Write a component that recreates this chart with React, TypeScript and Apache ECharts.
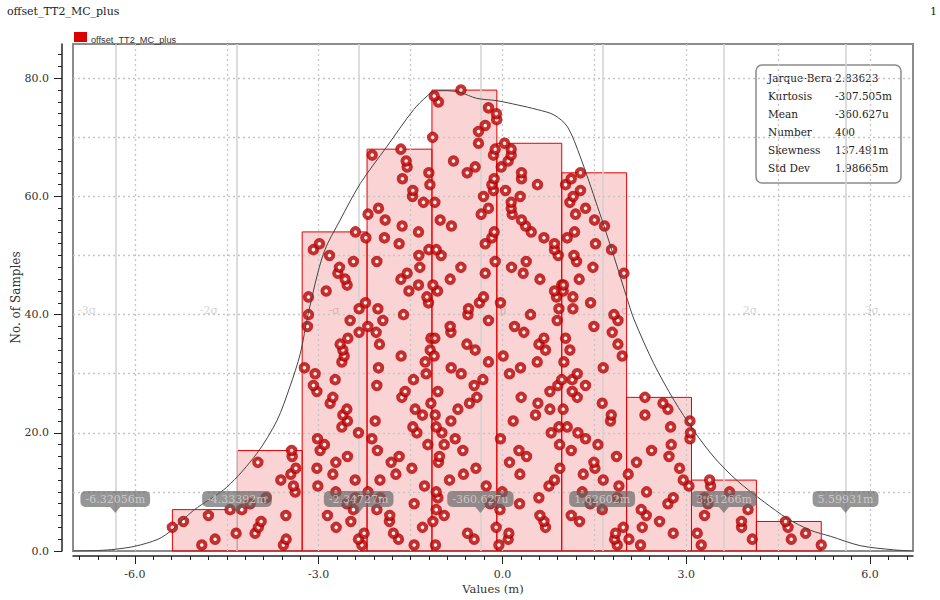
import React, { useEffect, useRef } from "react";
import * as echarts from "echarts";

const chartTitle = "offset_TT2_MC_plus";
const pageNumber = "1";
const legendName = "offset_TT2_MC_plus";
const xAxisName = "Values (m)";
const yAxisName = "No. of Samples";

// Monte Carlo samples grouped by histogram bin; within a bin each sample is
// stacked at its rank (first entry at height 1, second at 2, ...).
const bin1 = [-4.908, -4.691, -4.348, -5.388, -5.208, -4.8, -4.446];
const bin2 = [
  -3.576, -3.531, -4.038, -3.984, -3.94, -3.536, -4.255, -4.119, -3.858, -3.384,
  -3.412, -3.618, -3.455, -3.373, -3.993, -3.433, -3.442,
];
const bin3 = [
  -2.296, -2.351, -2.258, -2.715, -2.475, -2.857, -2.433, -2.54, -2.4, -2.72,
  -3.014, -2.405, -2.769, -3.03, -2.72, -2.531, -2.976, -2.906, -3.02, -2.351,
  -2.622, -2.531, -2.606, -2.54, -2.813, -2.769, -3.03, -3.086, -2.731, -3.058,
  -3.233, -2.622, -2.584, -2.606, -2.65, -2.524, -2.34, -3.184, -2.487, -3.167,
  -2.34, -2.237, -3.167, -2.878, -2.536, -2.568, -2.687, -2.661, -2.433, -2.824,
  -3.086, -2.988, -2.23, -2.4,
];
const bin4 = [
  -1.442, -1.698, -1.78, -1.306, -1.845, -1.84, -2.051, -1.442, -1.997, -2.195,
  -1.273, -2.0, -1.74, -1.479, -1.817, -1.687, -2.041, -1.218, -2.132, -1.398,
  -1.463, -2.078, -1.306, -1.425, -1.169, -1.642, -1.589, -2.051, -1.453, -1.246,
  -2.024, -1.262, -1.654, -1.18, -2.008, -1.169, -2.062, -2.198, -1.953, -1.616,
  -2.034, -1.208, -1.234, -1.528, -1.371, -1.659, -1.556, -1.349, -2.051, -1.365,
  -1.202, -1.687, -1.927, -1.371, -1.638, -1.915, -2.195, -2.024, -1.29, -1.469,
  -1.463, -1.185, -1.633, -1.202, -1.556, -1.572, -2.127, -1.659,
];
const bin5 = [
  -1.094, -0.462, -0.571, -0.103, -1.136, -0.952, -1.082, -0.201, -1.055, -1.082,
  -0.266, -0.865, -0.637, -0.434, -1.045, -1.029, -0.647, -0.952, -0.772, -0.989,
  -1.082, -0.842, -1.099, -0.728, -0.539, -0.418, -1.055, -0.462, -0.32, -0.674,
  -0.838, -0.229, -1.115, -0.446, -0.581, -1.104, -0.842, -0.854, -0.229, -0.565,
  -0.555, -0.376, -0.31, -1.061, -1.136, -0.854, -0.282, -0.679, -0.119, -1.001,
  -1.082, -0.282, -0.173, -0.136, -0.833, -1.017, -0.348, -0.229, -1.104, -0.31,
  -0.147, -0.173, -0.136, -0.576, -0.446, -0.8, -0.147, -0.119, -0.392, -1.14,
  -0.392, -0.282, -0.095, -0.1, -0.229, -1.045, -1.115, -0.679,
];
const bin6 = [
  -0.059, 0.093, 0.104, 0.702, 0.676, 0.611, -0.042, 0.278, 0.594, -0.005,
  0.758, 0.849, 0.284, 0.937, 0.114, 0.392, 0.268, 0.931, -0.033, 0.795,
  0.921, 0.175, 0.539, 0.774, 0.578, 0.305, 0.774, 0.904, 0.967, 0.114,
  0.294, 0.567, 0.011, 0.702, 0.594, 0.676, 0.349, 0.196, 0.893, 0.457,
  0.921, -0.033, 0.882, 0.849, 0.967, 0.611, 0.338, 0.147, 0.387, 0.909,
  0.849, 0.849, 0.676, 0.469, 0.376, 0.31, 0.158, 0.142, 0.142, 0.289,
  0.049, 0.571, 0.31, 0.31, -0.021, 0.093, 0.142, 0.142, 0.033,
];
const bin7 = [
  1.873, 1.829, 1.845, 1.971, 1.257, 1.122, 1.628, 1.432, 1.873, 1.301,
  1.9, 1.644, 1.318, 1.509, 1.492, 1.861, 1.122, 1.558, 1.355, 1.231,
  1.056, 1.763, 1.775, 0.99, 1.628, 1.22, 1.138, 1.355, 1.138, 1.22,
  1.644, 1.002, 1.954, 1.1, 1.884, 1.029, 1.791, 1.492, 1.884, 1.819,
  1.149, 1.437, 1.149, 0.991, 0.995, 1.252, 1.982, 1.476, 1.208, 1.166,
  1.78, 1.518, 1.056, 1.176, 1.665, 1.502, 1.192, 1.355, 1.1, 1.154,
  1.273, 1.029, 1.122, 1.273,
];
const bin8 = [
  2.253, 2.064, 2.787, 2.281, 2.563, 2.346, 2.264, 2.7, 2.787, 2.351,
  3.043, 2.95, 2.052, 2.89, 2.188, 2.717, 2.433, 2.754, 3.06, 3.069,
  2.743, 3.06, 2.325, 2.7, 2.619, 2.325,
];
const bin9 = [3.244, 4.077, 3.179, 3.902, 3.9, 3.298, 4.007, 3.353, 3.298, 3.706, 3.396, 3.38];
const bin10 = [5.203, 4.713, 4.947, 4.66, 4.62];

const bins = [bin1, bin2, bin3, bin4, bin5, bin6, bin7, bin8, bin9, bin10];

// Fitted density, scaled to sample counts
const densityX = [
  -7.01, -6.57, -6.32, -6.0, -5.62, -5.39, -5.04, -4.5, -4.01, -3.68, -3.47, -3.3,
  -3.17, -2.92, -2.65, -2.32, -1.89, -1.45, -1.23, -1.12, -0.91, -0.69, -0.42,
  -0.09, 0.24, 0.57, 0.84, 1.06, 1.27, 1.55, 1.82, 2.04, 2.15, 2.47, 2.8, 3.12,
  3.45, 3.83, 4.27, 4.65, 5.03, 5.35, 5.84, 6.38, 6.7,
];
const densityY = [
  0, 0.1, 0.3, 0.8, 2.0, 3.6, 6.9, 10.8, 16.5, 22.1, 27.8, 33.4,
  40.2, 50.4, 56.0, 62.2, 68.4, 74.7, 77.0, 77.8, 77.9, 77.6, 76.6,
  76.2, 75.5, 74.7, 73.8, 71.8, 66.7, 58.3, 49.8, 42.5, 39.1, 31.7, 25.5, 20.4,
  15.9, 11.9, 8.3, 5.5, 3.5, 2.5, 0.9, 0.2, 0,
];

const statNames = ["Jarque-Bera", "Kurtosis", "Mean", "Number", "Skewness", "Std Dev"];
const statValues = ["2.83623", "-307.505m", "-360.627u", "400", "137.491m", "1.98665m"];

const sampleMean = -0.360627;
const sampleStd = 1.98665;
const sigmaSteps = [-3, -2, -1, 0, 1, 2, 3];
const sigmaNames = ["-3σ", "-2σ", "-σ", "μ", "σ", "2σ", "3σ"];
const sigmaValueLabels = [
  "-6.32056m", "-4.33392m", "-2.34727m", "-360.627u", "1.62602m", "3.61266m", "5.59931m",
];

const xMajorTicks = [-6, -3, 0, 3, 6];
const xGridLines = [-6, -4.5, -3, -1.5, 0, 1.5, 3, 4.5, 6];
const yMajorTicks = [0, 20, 40, 60, 80];
const yGridLines = [10, 20, 30, 40, 50, 60, 70, 80];

const X_MIN = -7.01;
const X_MAX = 6.7;
const Y_MAX = 85.8;

const SERIF = "DejaVu Serif";

function stepValues(from: number, to: number, step: number): number[] {
  const out: number[] = [];
  const n = Math.round((to - from) / step);
  for (let i = 0; i <= n; i++) out.push(Math.round((from + i * step) * 1000) / 1000);
  return out;
}

function buildOption(): echarts.EChartsOption {
  const all = bins.flat();
  const lo = Math.min(...all);
  const hi = Math.max(...all);
  const width = (hi - lo) / bins.length;
  const histData = bins.map((b, i) => [lo + i * width, lo + (i + 1) * width, b.length]);

  const sampleData: number[][] = [];
  bins.forEach((b) => b.forEach((v, i) => sampleData.push([v, i + 1])));

  const sigmaXs = sigmaSteps.map((k) => sampleMean + k * sampleStd);

  const xMinor = stepValues(-6.9, 6.6, 0.3);
  const yMinor = stepValues(0, 84, 2);

  const axisLineStyle = { color: "#222", width: 1.5 };
  const tickStyle = { color: "#222", width: 1 };

  return {
    animation: false,
    backgroundColor: "#fff",
    grid: {
      left: 73,
      right: 27,
      top: 44,
      bottom: 49,
      show: true,
      borderColor: "#8c8c8c",
      borderWidth: 2,
      backgroundColor: "transparent",
      containLabel: false,
      outerBoundsMode: "none",
    },
    xAxis: [
      {
        type: "value",
        min: X_MIN,
        max: X_MAX,
        position: "bottom",
        offset: 5,
        axisLine: { show: true, onZero: false, lineStyle: axisLineStyle },
        axisTick: { show: true, customValues: xMinor, length: 4, lineStyle: tickStyle },
        axisLabel: { show: false },
        splitLine: { show: false },
      },
      {
        type: "value",
        min: X_MIN,
        max: X_MAX,
        position: "bottom",
        offset: 5,
        axisLine: { show: false, onZero: false },
        axisTick: { show: true, customValues: xMajorTicks, length: 8, lineStyle: tickStyle },
        axisLabel: {
          show: true,
          customValues: xMajorTicks,
          formatter: (v: number) => v.toFixed(1),
          margin: 13,
          fontFamily: SERIF,
          fontSize: 11,
          color: "#333",
        },
        splitLine: { show: false },
        name: xAxisName,
        nameLocation: "middle",
        nameGap: 27,
        nameMoveOverlap: false,
        nameTextStyle: { fontFamily: SERIF, fontSize: 11.5, color: "#333" },
      },
    ],
    yAxis: [
      {
        type: "value",
        min: 0,
        max: Y_MAX,
        position: "left",
        offset: 11,
        axisLine: { show: true, onZero: false, lineStyle: axisLineStyle },
        axisTick: { show: true, customValues: yMinor, length: 4, lineStyle: tickStyle },
        axisLabel: { show: false },
        splitLine: { show: false },
      },
      {
        type: "value",
        min: 0,
        max: Y_MAX,
        position: "left",
        offset: 11,
        axisLine: { show: false, onZero: false },
        axisTick: { show: true, customValues: yMajorTicks, length: 8, lineStyle: tickStyle },
        axisLabel: {
          show: true,
          customValues: yMajorTicks,
          formatter: (v: number) => v.toFixed(1),
          margin: 13,
          fontFamily: SERIF,
          fontSize: 11,
          color: "#333",
        },
        splitLine: { show: false },
        name: yAxisName,
        nameLocation: "middle",
        nameGap: 40,
        nameMoveOverlap: false,
        nameRotate: 90,
        nameTextStyle: { fontFamily: SERIF, fontSize: 12, color: "#333" },
      },
    ],
    series: [
      {
        // dotted grid
        type: "line",
        xAxisIndex: 0,
        yAxisIndex: 0,
        data: [],
        silent: true,
        z: 1,
        markLine: {
          silent: true,
          symbol: "none",
          label: { show: false },
          lineStyle: { type: [2, 3], color: "#c6c6c6", width: 1.3 },
          data: [
            ...xGridLines.map((v) => ({ xAxis: v })),
            ...yGridLines.map((v) => ({ yAxis: v })),
          ],
        },
      },
      {
        // mean and sigma lines
        type: "line",
        xAxisIndex: 0,
        yAxisIndex: 0,
        data: [],
        silent: true,
        z: 2,
        markLine: {
          silent: true,
          symbol: "none",
          label: { show: false },
          lineStyle: { type: "solid", color: "#d2d2d2", width: 1.5 },
          data: sigmaXs.map((v) => ({ xAxis: v })),
        },
      },
      {
        type: "scatter",
        xAxisIndex: 0,
        yAxisIndex: 0,
        silent: true,
        symbolSize: 0,
        z: 3,
        data: sigmaXs.map((v, i) => ({
          value: [v, 40],
          label: {
            show: true,
            formatter: sigmaNames[i],
            position: sigmaSteps[i] < 0 ? "left" : "right",
            distance: 19,
            offset: [0, -4],
            color: "#c9c9c9",
            fontFamily: SERIF,
            fontSize: 11,
          },
        })),
      },
      {
        name: legendName,
        type: "custom",
        xAxisIndex: 0,
        yAxisIndex: 0,
        z: 4,
        data: histData,
        encode: { x: [0, 1], y: 2 },
        renderItem: (_params: any, api: any) => {
          const p0 = api.coord([api.value(0), api.value(2)]);
          const p1 = api.coord([api.value(1), 0]);
          return {
            type: "rect",
            shape: { x: p0[0], y: p0[1], width: p1[0] - p0[0], height: p1[1] - p0[1] },
            style: { fill: "rgba(224,0,0,0.17)", stroke: "#e40000", lineWidth: 1 },
          };
        },
      },
      {
        type: "scatter",
        xAxisIndex: 0,
        yAxisIndex: 0,
        z: 5,
        symbol: "circle",
        symbolSize: 7.5,
        itemStyle: { color: "#ffffff", borderColor: "#b80000", borderWidth: 4 },
        data: sampleData,
      },
      {
        type: "line",
        xAxisIndex: 0,
        yAxisIndex: 0,
        z: 6,
        smooth: 0.3,
        symbol: "none",
        lineStyle: { color: "#444", width: 1 },
        data: densityX.map((x, i) => [x, densityY[i]]),
      },
      {
        type: "scatter",
        xAxisIndex: 0,
        yAxisIndex: 0,
        z: 10,
        symbol: "triangle",
        symbolRotate: 180,
        symbolSize: [10, 6],
        itemStyle: { color: "rgba(100,100,100,0.85)" },
        data: sigmaXs.map((v, i) => ({
          value: [v, 6.95],
          label: {
            show: true,
            formatter: sigmaValueLabels[i],
            position: "top",
            distance: 0,
            backgroundColor: "rgba(100,100,100,0.85)",
            borderRadius: 5,
            padding: [3, 5, 2, 5],
            color: "#d6d6d6",
            fontFamily: SERIF,
            fontSize: 11,
          },
        })),
      },
    ],
    graphic: [
      {
        type: "text",
        left: 7,
        top: 6,
        style: { text: chartTitle, font: `11px "${SERIF}"`, fill: "#222" },
      },
      {
        type: "text",
        right: 3,
        top: 6,
        style: { text: pageNumber, font: `11px "${SERIF}"`, fill: "#222" },
      },
      {
        type: "rect",
        shape: { x: 74, y: 32, width: 13, height: 10 },
        style: { fill: "#dd0000" },
      },
      {
        type: "text",
        x: 91,
        y: 39.5,
        style: {
          text: legendName,
          font: '9.2px "Liberation Sans"',
          fill: "#333",
          verticalAlign: "middle",
        },
      },
      {
        type: "group",
        x: 756,
        y: 65,
        z: 20,
        children: [
          {
            type: "rect",
            shape: { x: 0, y: 0, width: 145, height: 118, r: 6 },
            style: { fill: "#fff", stroke: "#8a8a8a", lineWidth: 1.5 },
          },
          ...statNames.map((n, i) => ({
            type: "text",
            x: 12,
            y: 13.3 + i * 18,
            style: { text: n, font: `10.5px "${SERIF}"`, fill: "#222", verticalAlign: "middle" },
          })),
          ...statValues.map((v, i) => ({
            type: "text",
            x: 79,
            y: 13.3 + i * 18,
            style: { text: v, font: `10.5px "${SERIF}"`, fill: "#222", verticalAlign: "middle" },
          })),
        ],
      },
    ],
  } as echarts.EChartsOption;
}

export default function App() {
  const ref = useRef<HTMLDivElement>(null);
  useEffect(() => {
    if (!ref.current) return;
    const chart = echarts.init(ref.current, undefined, { renderer: "svg" });
    chart.setOption(buildOption());
    return () => chart.dispose();
  }, []);
  return (
    <div
      ref={ref}
      style={{ position: "fixed", left: 0, top: 0, width: 940, height: 600, background: "#fff" }}
    />
  );
}
